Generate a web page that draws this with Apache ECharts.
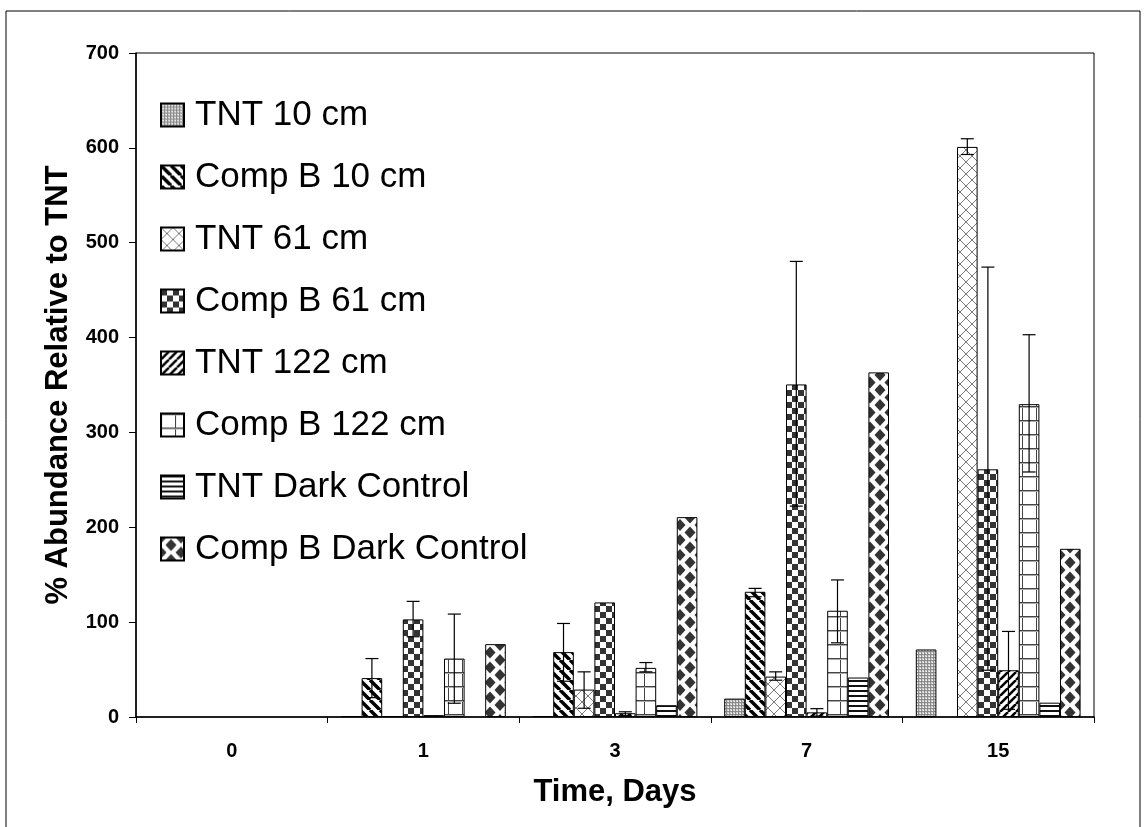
<!DOCTYPE html>
<html>
<head>
<meta charset="utf-8">
<script src="https://cdn.jsdelivr.net/npm/echarts@6/dist/echarts.min.js"></script>
<style>
html,body{margin:0;padding:0;background:#fff;}
#chart{width:1146px;height:827px;}
</style>
</head>
<body>
<div id="chart"></div>
<script>
// ---- data ----
const categories = ['0', '1', '3', '7', '15'];
const seriesNames = ['TNT 10 cm', 'Comp B 10 cm', 'TNT 61 cm', 'Comp B 61 cm', 'TNT 122 cm', 'Comp B 122 cm', 'TNT Dark Control', 'Comp B Dark Control'];
const tnt10      = [null, 1, 1, 19.4, 71.2];
const compB10    = [null, 41, 68.4, 132, null];
const tnt61      = [null, 1, 28.9, 42.6, 601];
const compB61    = [null, 102.9, 120.8, 350.6, 261.1];
const tnt122     = [null, 2, 4, 4.9, 49.3];
const compB122   = [null, 61.6, 51.8, 112, 329.8];
const tntDark    = [null, null, 12.4, 41.6, 15.1];
const compBDark  = [null, 76.8, 210.7, 363.3, 177.3];
const seriesValues = [tnt10, compB10, tnt61, compB61, tnt122, compB122, tntDark, compBDark];
// error bars: [categoryIndex, seriesIndex, low, high]
const errorBars = [
  [1, 1, 20.4, 61.6], [1, 3, 84.6, 121.9], [1, 5, 14.5, 108.5],
  [2, 1, 37.7, 98.6], [2, 2, 9.2, 47.6], [2, 4, 1.5, 5.5], [2, 5, 47.6, 57.4],
  [3, 1, 126.8, 135.6], [3, 2, 38.8, 47.6], [3, 3, 222.3, 480.3], [3, 4, 1, 8.8], [3, 5, 78.2, 144.5],
  [4, 2, 593, 609.6], [4, 3, 49.3, 474.3], [4, 4, 8.1, 90.2], [4, 5, 258.3, 403]
];
const yTicks = { min: 0, max: 700, interval: 100 };

// ---- patterns ----
function tile(w, h, draw) {
  const c = document.createElement('canvas');
  c.width = w; c.height = h;
  const ctx = c.getContext('2d');
  ctx.fillStyle = '#fff';
  ctx.fillRect(0, 0, w, h);
  draw(ctx, w, h);
  return { image: c, repeat: 'repeat' };
}
function diagLines(ctx, w, h, dir, lw, color) {
  ctx.strokeStyle = color; ctx.lineWidth = lw;
  ctx.beginPath();
  for (let k = -1; k <= 1; k++) {
    if (dir > 0) { ctx.moveTo(k * w, 0); ctx.lineTo(k * w + w, h); }
    else { ctx.moveTo(k * w, h); ctx.lineTo(k * w + w, 0); }
  }
  ctx.stroke();
}
const patterns = [
  tile(3, 3, (ctx) => { ctx.fillStyle = '#8a8a8a'; ctx.fillRect(0, 0, 3, 1); ctx.fillRect(0, 0, 1, 3); ctx.fillStyle = '#cfcfcf'; ctx.fillRect(1, 1, 2, 2); ctx.fillStyle = '#fff'; ctx.fillRect(2, 2, 1, 1); }),
  tile(10, 10, (ctx, w, h) => diagLines(ctx, w, h, 1, 3.5, '#000')),
  tile(12, 12, (ctx, w, h) => { diagLines(ctx, w, h, 1, 1, '#7a7a7a'); diagLines(ctx, w, h, -1, 1, '#7a7a7a'); }),
  tile(12, 12, (ctx) => { ctx.fillStyle = '#333'; ctx.fillRect(0, 0, 6, 6); ctx.fillRect(6, 6, 6, 6); }),
  tile(8, 8, (ctx, w, h) => diagLines(ctx, w, h, -1, 2.5, '#000')),
  tile(14, 14, (ctx) => { ctx.fillStyle = '#444'; ctx.fillRect(0, 0, 14, 1); ctx.fillRect(0, 0, 1, 14); ctx.fillStyle = '#aaa'; ctx.fillRect(0, 1, 14, 1); }),
  tile(5, 5, (ctx) => { ctx.fillStyle = '#111'; ctx.fillRect(0, 0, 5, 2); }),
  tile(20, 15, (ctx) => {
    ctx.fillStyle = '#333';
    const d = (cx, cy) => { ctx.beginPath(); ctx.moveTo(cx, cy - 6); ctx.lineTo(cx + 5.5, cy); ctx.lineTo(cx, cy + 6); ctx.lineTo(cx - 5.5, cy); ctx.closePath(); ctx.fill(); };
    d(10, 7.5); d(0, 0); d(20, 0); d(0, 15); d(20, 15);
  })
];

const CAT_GAP = 0.14;
const FONT = 'Liberation Sans';

const series = seriesNames.map((name, i) => ({
  name: name,
  type: 'bar',
  data: seriesValues[i],
  barGap: '0%',
  barCategoryGap: (CAT_GAP * 100) + '%',
  itemStyle: { color: patterns[i], borderColor: '#000', borderWidth: 1 },
  emphasis: { disabled: true },
  z: 2
}));

series.push({
  type: 'custom',
  name: 'errors',
  data: errorBars,
  z: 5,
  silent: true,
  encode: { x: 0, y: [2, 3] },
  renderItem: function (params, api) {
    const cat = api.value(0);
    const s = api.value(1);
    const bandW = api.size([1, 0])[0];
    const n = seriesNames.length;
    const barW = bandW * (1 - CAT_GAP) / n;
    const cx = api.coord([cat, 0])[0] - n * barW / 2 + (s + 0.5) * barW;
    const yLo = api.coord([cat, api.value(2)])[1];
    const yHi = api.coord([cat, api.value(3)])[1];
    const cap = 6.5;
    const st = { stroke: '#000', lineWidth: 1.2 };
    return {
      type: 'group',
      children: [
        { type: 'line', shape: { x1: cx, y1: yLo, x2: cx, y2: yHi }, style: st },
        { type: 'line', shape: { x1: cx - cap, y1: yHi, x2: cx + cap, y2: yHi }, style: st },
        { type: 'line', shape: { x1: cx - cap, y1: yLo, x2: cx + cap, y2: yLo }, style: st }
      ]
    };
  }
});

const chart = echarts.init(document.getElementById('chart'), null, { renderer: 'canvas' });
chart.setOption({
  animation: false,
  backgroundColor: '#fff',
  textStyle: { fontFamily: FONT },
  graphic: [{
    type: 'rect', shape: { x: 6, y: 11, width: 1134, height: 840 },
    style: { fill: 'none', stroke: '#000', lineWidth: 1 }, silent: true, z: 0
  }],
  grid: { left: 136, right: 52, top: 53, bottom: 110, show: true, borderColor: '#000', borderWidth: 1, backgroundColor: 'transparent' },
  legend: {
    data: seriesNames,
    orient: 'vertical',
    left: 160, top: 97,
    itemWidth: 23, itemHeight: 23, itemGap: 26,
    icon: 'rect',
    padding: 0,
    textStyle: { fontSize: 35, fontFamily: FONT, color: '#000', lineHeight: 36, padding: [0, 0, 0, 6] },
    selectedMode: false
  },
  xAxis: {
    type: 'category',
    data: categories,
    name: 'Time, Days',
    nameLocation: 'middle',
    nameGap: 60,
    nameTextStyle: { fontSize: 31, fontWeight: 'bold', fontFamily: FONT, color: '#000' },
    axisLine: { lineStyle: { color: '#000', width: 1.5 } },
    axisTick: { show: true, length: 6, lineStyle: { color: '#000' }, alignWithLabel: false },
    axisLabel: { fontSize: 20, fontWeight: 'bold', color: '#000', margin: 24, fontFamily: FONT }
  },
  yAxis: {
    type: 'value',
    min: yTicks.min, max: yTicks.max, interval: yTicks.interval,
    name: '% Abundance Relative to TNT',
    nameLocation: 'middle',
    nameGap: 62,
    nameRotate: 90,
    nameTextStyle: { fontSize: 31, fontWeight: 'bold', fontFamily: FONT, color: '#000' },
    axisLine: { show: true, lineStyle: { color: '#000', width: 1.5 } },
    axisTick: { show: true, length: 7, lineStyle: { color: '#000' } },
    splitLine: { show: false },
    axisLabel: { fontSize: 20, fontWeight: 'bold', color: '#000', margin: 17, fontFamily: FONT }
  },
  series: series
});
</script>
</body>
</html>
